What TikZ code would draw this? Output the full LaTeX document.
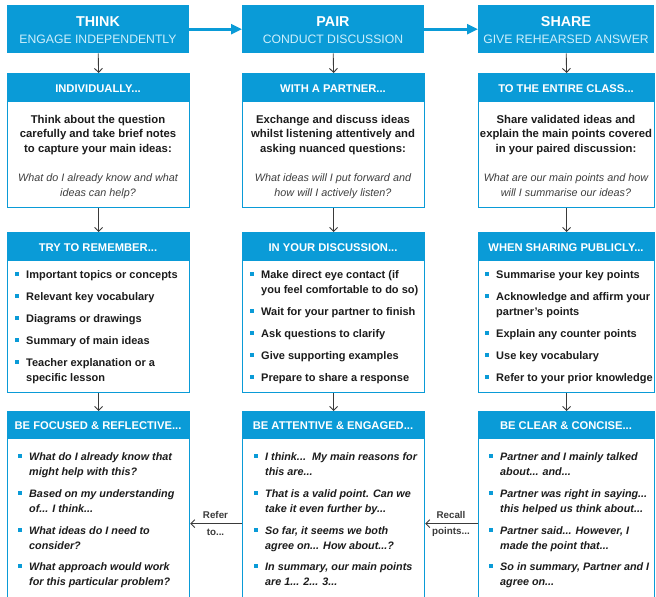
\documentclass[tikz,border=0pt]{standalone}
\usepackage{fontspec}
\setmainfont{Liberation Sans}
\usetikzlibrary{arrows.meta}
\definecolor{tpsblue}{HTML}{0A9BD7}
\definecolor{tpslight}{HTML}{CDEFFC}
\definecolor{tpsink}{HTML}{1C1C1C}
\definecolor{tpsgrey}{HTML}{3A3A3A}
\tikzset{
  hdrbox/.style={fill=tpsblue, draw=none, minimum height=48pt, anchor=north west, inner sep=0pt},
  card/.style={fill=white, draw=tpsblue, line width=1.2pt, anchor=north west, inner sep=0pt},
  band/.style={fill=tpsblue, draw=none, anchor=north west, inner sep=0pt},
  ttl/.style={font=\fontsize{14.3}{16}\selectfont\bfseries, text=white, inner sep=0pt, anchor=base},
  subttl/.style={font=\fontsize{12.2}{14}\selectfont, text=tpslight, inner sep=0pt, anchor=base},
  bandtxt/.style={font=\fontsize{11.2}{13}\selectfont\bfseries, text=white, inner sep=0pt, anchor=base},
  leadtxt/.style={font=\fontsize{11.3}{14}\selectfont\bfseries, text=tpsink, inner sep=0pt, anchor=base},
  questxt/.style={font=\fontsize{10.8}{14}\selectfont\itshape, text=tpsink!85, inner sep=0pt, anchor=base},
  listtxt/.style={font=\fontsize{11}{14}\selectfont\bfseries, text=tpsink, inner sep=0pt},
  listq/.style={font=\fontsize{10.8}{14}\selectfont\bfseries\itshape, text=tpsink, inner sep=0pt},
  bul/.style={fill=tpsblue, draw=none, minimum size=3.2pt, inner sep=0pt},
  lbl/.style={font=\fontsize{9.8}{12}\selectfont\bfseries, text=tpsgrey, inner sep=0pt},
  dnarrow/.style={draw=tpsgrey, line width=0.9pt, -{Straight Barb[length=4pt,width=8pt]}},
  hzarrow/.style={draw=tpsblue, line width=2.6pt, -{Triangle[length=11pt,width=10pt]}},
  lnarrow/.style={draw=tpsgrey, line width=0.9pt, -{Straight Barb[length=4pt,width=8pt]}},
}
\newcommand{\oneitem}[4]{%
  \node[bul] (#1b) at (#2, #3-4) {};
  \node[#4, anchor=base west] (#1x) at (#2+9, #3) }
\newcommand{\twoitem}[6]{%
  \node[bul] (#1b) at (#2, #3-4) {};
  \node[#4, anchor=base west] (#1x) at (#2+9, #3) {#5};
  \node[#4, anchor=base west] (#1y) at (#2+9, #3+15) {#6};}
\begin{document}
\begin{tikzpicture}[x=1pt,y=-1pt]
\useasboundingbox (0,0) rectangle (656,597);
\clip (0,0) rectangle (656,597);

% ---------- header row ----------
\node[hdrbox, minimum width=182pt] (t1) at (7,5) {};
\node[hdrbox, minimum width=182pt] (t2) at (242,5) {};
\node[hdrbox, minimum width=176pt] (t3) at (478,5) {};
\node[ttl] (t1a) at (98,27) {THINK};
\node[subttl] (t1s) at (98,43) {ENGAGE INDEPENDENTLY};
\node[ttl] (t2a) at (333,27) {PAIR};
\node[subttl] (t2s) at (333,43) {CONDUCT DISCUSSION};
\node[ttl] (t3a) at (566,27) {SHARE};
\node[subttl] (t3s) at (566,43) {GIVE REHEARSED ANSWER};

% ---------- cards ----------
\node[card, minimum width=182pt, minimum height=134pt] (c12) at (7,73) {};
\node[card, minimum width=182pt, minimum height=134pt] (c22) at (242,73) {};
\node[card, minimum width=176pt, minimum height=134pt] (c32) at (478,73) {};
\node[band, minimum width=182pt, minimum height=29pt] (b12) at (7,73) {};
\node[band, minimum width=182pt, minimum height=29pt] (b22) at (242,73) {};
\node[band, minimum width=176pt, minimum height=29pt] (b32) at (478,73) {};

\node[card, minimum width=182pt, minimum height=160pt] (c13) at (7,232) {};
\node[card, minimum width=182pt, minimum height=160pt] (c23) at (242,232) {};
\node[card, minimum width=176pt, minimum height=160pt] (c33) at (478,232) {};
\node[band, minimum width=182pt, minimum height=29pt] (b13) at (7,232) {};
\node[band, minimum width=182pt, minimum height=29pt] (b23) at (242,232) {};
\node[band, minimum width=176pt, minimum height=29pt] (b33) at (478,232) {};

\node[card, minimum width=182pt, minimum height=224pt] (c14) at (7,411) {};
\node[card, minimum width=182pt, minimum height=224pt] (c24) at (242,411) {};
\node[card, minimum width=176pt, minimum height=224pt] (c34) at (478,411) {};
\node[band, minimum width=182pt, minimum height=28pt] (b14) at (7,411) {};
\node[band, minimum width=182pt, minimum height=28pt] (b24) at (242,411) {};
\node[band, minimum width=176pt, minimum height=28pt] (b34) at (478,411) {};

% ---------- band titles ----------
\node[bandtxt] (h12) at (98,92) {INDIVIDUALLY...};
\node[bandtxt] (h22) at (333,92) {WITH A PARTNER...};
\node[bandtxt] (h32) at (566,92) {TO THE ENTIRE CLASS...};
\node[bandtxt] (h13) at (98,251) {TRY TO REMEMBER...};
\node[bandtxt] (h23) at (333,251) {IN YOUR DISCUSSION...};
\node[bandtxt] (h33) at (566,251) {WHEN SHARING PUBLICLY...};
\node[bandtxt] (h14) at (98,429) {BE FOCUSED \& REFLECTIVE...};
\node[bandtxt] (h24) at (333,429) {BE ATTENTIVE \& ENGAGED...};
\node[bandtxt] (h34) at (566,429) {BE CLEAR \& CONCISE...};

% ---------- row 2 text ----------
\node[leadtxt] (l1a) at (98,123) {Think about the question};
\node[leadtxt] (l1b) at (98,137.5) {carefully and take brief notes};
\node[leadtxt] (l1c) at (98,152) {to capture your main ideas:};
\node[questxt] (q1a) at (98,181) {What do I already know and what};
\node[questxt] (q1b) at (98,196) {ideas can help?};

\node[leadtxt] (l2a) at (333,123) {Exchange and discuss ideas};
\node[leadtxt] (l2b) at (333,137.5) {whilst listening attentively and};
\node[leadtxt] (l2c) at (333,152) {asking nuanced questions:};
\node[questxt] (q2a) at (333,181) {What ideas will I put forward and};
\node[questxt] (q2b) at (333,196) {how will I actively listen?};

\node[leadtxt] (l3a) at (566,123) {Share validated ideas and};
\node[leadtxt] (l3b) at (566,137.5) {explain the main points covered};
\node[leadtxt] (l3c) at (566,152) {in your paired discussion:};
\node[questxt] (q3a) at (566,181) {What are our main points and how};
\node[questxt] (q3b) at (566,196) {will I summarise our ideas?};

% ---------- row 3 lists ----------
\oneitem{ra}{17}{278}{listtxt}{Important topics or concepts};
\oneitem{rb}{17}{300}{listtxt}{Relevant key vocabulary};
\oneitem{rc}{17}{322}{listtxt}{Diagrams or drawings};
\oneitem{rd}{17}{344}{listtxt}{Summary of main ideas};
\twoitem{re}{17}{366}{listtxt}{Teacher explanation or a}{specific lesson}

\twoitem{da}{252}{278}{listtxt}{Make direct eye contact (if}{you feel comfortable to do so)}
\oneitem{db}{252}{315}{listtxt}{Wait for your partner to finish};
\oneitem{dc}{252}{337}{listtxt}{Ask questions to clarify};
\oneitem{dd}{252}{359}{listtxt}{Give supporting examples};
\oneitem{de}{252}{381}{listtxt}{Prepare to share a response};

\oneitem{sa}{487}{278}{listtxt}{Summarise your key points};
\twoitem{sb}{487}{300}{listtxt}{Acknowledge and affirm your}{partner's points}
\oneitem{sc}{487}{337}{listtxt}{Explain any counter points};
\oneitem{sd}{487}{359}{listtxt}{Use key vocabulary};
\oneitem{se}{487}{381}{listtxt}{Refer to your prior knowledge};

% ---------- row 4 lists ----------
\twoitem{fa}{20}{460}{listq}{What do I already know that}{might help with this?}
\twoitem{fb}{20}{497}{listq}{Based on my understanding}{of... I think...}
\twoitem{fc}{20}{534}{listq}{What ideas do I need to}{consider?}
\twoitem{fd}{20}{570}{listq}{What approach would work}{for this particular problem?}

\twoitem{ea}{256}{460}{listq}{I think...\ \ My main reasons for}{this are...}
\twoitem{eb}{256}{497}{listq}{That is a valid point. Can we}{take it even further by...}
\twoitem{ec}{256}{534}{listq}{So far, it seems we both}{agree on... How about...?}
\twoitem{ed}{256}{570}{listq}{In summary, our main points}{are 1... 2... 3...}

\twoitem{ka}{491}{460}{listq}{Partner and I mainly talked}{about... and...}
\twoitem{kb}{491}{497}{listq}{Partner was right in saying...}{this helped us think about...}
\twoitem{kc}{491}{534}{listq}{Partner said... However, I}{made the point that...}
\twoitem{kd}{491}{570}{listq}{So in summary, Partner and I}{agree on...}

% ---------- connectors ----------
\draw[hzarrow] (t1.east) -- (t2.west);
\draw[hzarrow] (t2.east) -- (t3.west);
\draw[dnarrow] (t1.south) -- (c12.north);
\draw[dnarrow] (t2.south) -- (c22.north);
\draw[dnarrow] (t3.south) -- (c32.north);
\draw[dnarrow] (c12.south) -- (c13.north);
\draw[dnarrow] (c22.south) -- (c23.north);
\draw[dnarrow] (c32.south) -- (c33.north);
\draw[dnarrow] (c13.south) -- (c14.north);
\draw[dnarrow] (c23.south) -- (c24.north);
\draw[dnarrow] (c33.south) -- (c34.north);
\draw[lnarrow] (c24.west) -- (c14.east);
\draw[lnarrow] (c34.west) -- (c24.east);
\node[lbl] (rf1) at (215.5,515) {Refer};
\node[lbl] (rf2) at (215.5,532) {to...};
\node[lbl] (rc1) at (451,515) {Recall};
\node[lbl] (rc2) at (451,532) {points...};
\end{tikzpicture}
\end{document}
